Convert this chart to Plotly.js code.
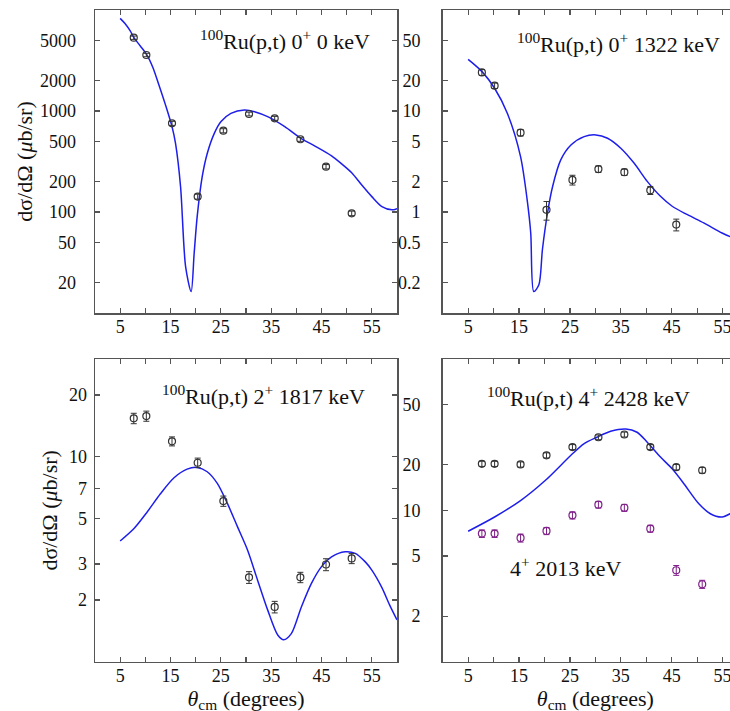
<!DOCTYPE html>
<html><head><meta charset="utf-8">
<script src="https://cdn.plot.ly/plotly-3.0.1.min.js"></script>
<style>html,body{margin:0;padding:0;overflow:hidden;background:#fff;} #chart{width:760px;height:740px;}</style>
</head><body><div id="chart"></div>
<script>
// c.m. angles of measured points (deg)
const angles = [7.7, 10.2, 15.3, 20.4, 25.5, 30.6, 35.7, 40.8, 45.9, 51.0];

// Panel A: 100Ru(p,t) 0+ 0 keV
const gsValues = [5320, 3585, 755, 142, 638, 934, 847, 525, 281, 97];
const gsErrors = [200, 140, 35, 8, 30, 40, 38, 24, 14, 5];
const gsCurveX = [5, 6, 7, 7.7, 9, 10.3, 11.5, 12.7, 14, 15.3, 16, 17, 18, 19.1, 19.7, 20.3, 21.3, 22.3, 23.7, 25, 27, 29.7, 31.7, 34.3, 37.7, 40.9, 43.7, 47, 49, 51, 53, 55, 57, 59, 60];
const gsCurveY = [8260, 7300, 6200, 5350, 4400, 3600, 2700, 1810, 1150, 700, 479, 178, 28.8, 16.3, 39, 90, 224, 380, 601, 783, 948, 1023, 985, 879, 700, 537, 450, 360, 300, 245, 185, 142, 113, 105, 108];

// Panel B: 100Ru(p,t) 0+ 1322 keV
const ex1322Values = [24.1, 17.8, 6.1, 1.05, 2.08, 2.66, 2.48, 1.64, 0.75];
const ex1322Errors = [1.6, 1.1, 0.45, 0.22, 0.23, 0.2, 0.18, 0.15, 0.1];
const ex1322CurveX = [5, 7.77, 10.2, 12.7, 15.3, 16.6, 17.3, 17.9, 18.9, 19.6, 20.6, 21.6, 23.2, 25.2, 27.8, 30.1, 32.4, 35.0, 37.6, 40.2, 42.8, 45.1, 48.1, 51.3, 54.9, 56.5, 60];
const ex1322CurveY = [32.4, 24.4, 16.8, 9.5, 3.54, 1.32, 0.62, 0.163, 0.19, 0.425, 0.98, 1.79, 3.28, 4.6, 5.58, 5.8, 5.37, 4.28, 3.05, 2.01, 1.43, 1.14, 0.94, 0.78, 0.62, 0.57, 0.5];

// Panel C: 100Ru(p,t) 2+ 1817 keV
const ex1817Values = [15.4, 15.8, 11.9, 9.35, 6.08, 2.58, 1.85, 2.58, 2.98, 3.19];
const ex1817Errors = [0.9, 0.9, 0.6, 0.5, 0.35, 0.17, 0.12, 0.15, 0.2, 0.18];
const ex1817CurveX = [5, 7.7, 10.3, 13, 15.7, 18.3, 20.3, 22.3, 24.3, 26.3, 28.3, 30.3, 32.3, 34.3, 36.3, 37.5, 39, 41, 43, 45, 47, 49.7, 51.7, 53.7, 55, 57, 58.5, 60];
const ex1817CurveY = [3.88, 4.45, 5.35, 6.6, 7.9, 8.7, 8.87, 8.45, 7.41, 5.92, 4.56, 3.51, 2.5, 1.79, 1.35, 1.28, 1.37, 1.85, 2.41, 2.91, 3.25, 3.44, 3.38, 3.07, 2.8, 2.3, 1.9, 1.6];

// Panel D: 100Ru(p,t) 4+ 2428 keV and 4+ 2013 keV
const ex2428Values = [20.3, 20.3, 20.1, 23.1, 26.2, 30.4, 31.7, 26.2, 19.3, 18.4];
const ex2428Errors = [0.8, 0.8, 0.8, 0.9, 1.0, 1.1, 1.2, 1.0, 0.8, 0.8];
const ex2013Values = [7.02, 7.02, 6.57, 7.31, 9.27, 10.9, 10.4, 7.57, 4.02, 3.25];
const ex2013Errors = [0.4, 0.4, 0.4, 0.4, 0.5, 0.55, 0.55, 0.4, 0.3, 0.2];
const ex2428CurveX = [5, 10.2, 15.3, 20.2, 25.2, 27.8, 30.3, 33.0, 36.0, 38.2, 40.2, 42.8, 45.1, 47.4, 50.3, 52.6, 54.9, 56.5, 58, 60];
const ex2428CurveY = [7.28, 9.04, 11.6, 15.8, 23.1, 27.6, 30.4, 33.3, 34.5, 32.8, 28.2, 22.5, 18.8, 15.0, 11.1, 9.5, 9.04, 9.5, 10.3, 11];

// Tick labels
const xTickVals = [5, 10, 15, 20, 25, 30, 35, 40, 45, 50, 55];
const xTickText = ['5', '', '15', '', '25', '', '35', '', '45', '', '55'];
const yTicksA = [20, 50, 100, 200, 500, 1000, 2000, 5000];
const yTicksB = [0.2, 0.5, 1, 2, 5, 10, 20, 50];
const yTicksC = [2, 3, 5, 7, 10, 20];
const yTicksD = [2, 5, 10, 20, 50];

// The figure is drawn slightly larger than the 730x711 window (its right and bottom edges are cropped, as in the original)
const W = 760, H = 740;
const FONT = 'Liberation Serif';
const curveColor = 'rgb(30,30,235)';
const dataColor = '#333333';
const purple = '#80208a';
const frame = '#555555';

function dataTrace(y, err, color, xa, ya) {
  return {x: angles.slice(0, y.length), y: y, type: 'scatter', mode: 'markers', xaxis: xa, yaxis: ya,
    marker: {symbol: 'circle-open', size: 7, color: color, line: {width: 1.2, color: color}},
    error_y: {type: 'data', array: err, visible: true, color: color, thickness: 1, width: 3}};
}
function curveTrace(x, y, xa, ya) {
  return {x: x, y: y, type: 'scatter', mode: 'lines', xaxis: xa, yaxis: ya,
    line: {color: curveColor, width: 1.5, shape: 'spline', smoothing: 0.8}};
}
const traces = [
  curveTrace(gsCurveX, gsCurveY, 'x', 'y'),
  dataTrace(gsValues, gsErrors, dataColor, 'x', 'y'),
  curveTrace(ex1322CurveX, ex1322CurveY, 'x2', 'y2'),
  dataTrace(ex1322Values, ex1322Errors, dataColor, 'x2', 'y2'),
  curveTrace(ex1817CurveX, ex1817CurveY, 'x3', 'y3'),
  dataTrace(ex1817Values, ex1817Errors, dataColor, 'x3', 'y3'),
  curveTrace(ex2428CurveX, ex2428CurveY, 'x4', 'y4'),
  dataTrace(ex2428Values, ex2428Errors, dataColor, 'x4', 'y4'),
  dataTrace(ex2013Values, ex2013Errors, purple, 'x4', 'y4')
];

function xAxis(dom, anchor, withTitle) {
  const a = {domain: dom, anchor: anchor, range: [0, 60], tickmode: 'array', tickvals: xTickVals, ticktext: xTickText,
    ticks: 'inside', ticklen: 5, tickwidth: 1.2, tickcolor: frame, showline: true, linecolor: frame, linewidth: 1.5,
    mirror: 'ticks', showgrid: false, zeroline: false, automargin: withTitle, ticklabelstandoff: -3,
    tickfont: {family: FONT, size: 18, color: '#111'}};
  if (withTitle) a.title = {text: '<i>θ</i><sub>cm</sub> (degrees)', font: {family: FONT, size: 22, color: '#111'}, standoff: 2};
  return a;
}
function yAxis(dom, anchor, range, vals, labelGap, withTitle, standoff) {
  const a = {domain: dom, anchor: anchor, type: 'log', range: range, tickmode: 'array', tickvals: vals, ticktext: vals.map(String),
    ticks: 'inside', ticklen: 5, tickwidth: 1.2, tickcolor: frame, showline: true, linecolor: frame, linewidth: 1.5,
    mirror: 'ticks', showgrid: false, zeroline: false, automargin: !!withTitle, ticklabelstandoff: labelGap,
    tickfont: {family: FONT, size: 18, color: '#111'}};
  if (withTitle) a.title = {text: 'dσ/dΩ (<i>μ</i>b/sr)', font: {family: FONT, size: 22, color: '#111'}, standoff: standoff};
  return a;
}
const xL = [95 / W, 397 / W], xR = [442.7 / W, 748 / W];
const yT = [1 - 313 / H, 1 - 10 / H], yB = [1 - 661.7 / H, 1 - 359 / H];

function ann(text, px, py, anchor) {
  return {text: text, xref: 'paper', yref: 'paper', x: px / W, y: 1 - py / H, xanchor: anchor, yanchor: 'middle',
    showarrow: false, font: {family: FONT, size: 22, color: '#111'}};
}

const layout = {
  width: W, height: H, margin: {l: 0, r: 0, t: 0, b: 0}, showlegend: false,
  font: {family: FONT},
  paper_bgcolor: '#fff', plot_bgcolor: '#fff',
  xaxis: xAxis(xL, 'y', false), yaxis: yAxis(yT, 'x', [1, 4], yTicksA, 14, true, 1),
  xaxis2: xAxis(xR, 'y2', false), yaxis2: yAxis(yT, 'x2', [-1, 2], yTicksB, 17, false),
  xaxis3: xAxis(xL, 'y3', true), yaxis3: yAxis(yB, 'x3', [0, Math.log10(30)], yTicksC, 3, true, 5),
  xaxis4: xAxis(xR, 'y4', true), yaxis4: yAxis(yB, 'x4', [0, 2], yTicksD, 17, false),
  annotations: [
    ann('<sup>100</sup>Ru(p,t) 0<sup>+</sup> 0 keV', 372, 40, 'right'),
    ann('<sup>100</sup>Ru(p,t) 0<sup>+</sup> 1322 keV', 722, 43, 'right'),
    ann('<sup>100</sup>Ru(p,t) 2<sup>+</sup> 1817 keV', 160, 395, 'left'),
    ann('<sup>100</sup>Ru(p,t) 4<sup>+</sup> 2428 keV', 485, 397, 'left'),
    ann('4<sup>+</sup> 2013 keV', 508, 567, 'left')
  ]
};
Plotly.newPlot('chart', traces, layout, {staticPlot: true, displayModeBar: false});
</script></body></html>
